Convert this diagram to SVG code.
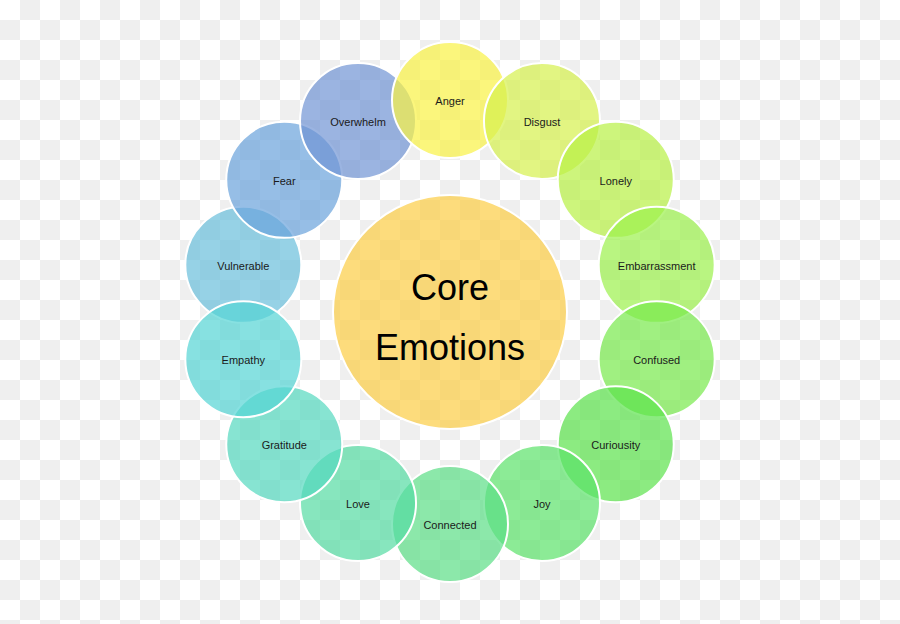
<svg xmlns="http://www.w3.org/2000/svg" width="900" height="624" viewBox="0 0 900 624">
<defs>
<pattern id="checker" x="0" y="0" width="40" height="40" patternUnits="userSpaceOnUse">
<rect x="0" y="0" width="40" height="40" fill="#ffffff"/>
<rect x="20" y="0" width="20" height="20" fill="#efefef"/>
<rect x="0" y="20" width="20" height="20" fill="#efefef"/>
</pattern>
</defs>
<style>
.c{stroke:#ffffff;stroke-width:2;fill-opacity:0.7}
.lbl{font-family:"Liberation Sans",Arial,sans-serif;font-size:11px;fill:#1a1a1a;text-anchor:middle}
.core{font-family:"Liberation Sans",Arial,sans-serif;font-size:36px;fill:#000000;text-anchor:middle}
</style>
<rect x="0" y="0" width="900" height="624" fill="url(#checker)"/>
<g id="connectors"/>
<g id="core">
<circle class="c" cx="450" cy="312" r="117" fill="#fccd45"/>
<text class="core" x="450" y="300">Core</text>
<text class="core" x="450" y="360">Emotions</text>
</g>
<g id="vulnerable"><circle class="c" cx="243.31" cy="264.83" r="58" fill="#69bfdb"/><text class="lbl" x="243.31" y="269.8">Vulnerable</text></g>
<g id="fear"><circle class="c" cx="284.25" cy="179.82" r="58" fill="#69a2db"/><text class="lbl" x="284.25" y="184.8">Fear</text></g>
<g id="overwhelm"><circle class="c" cx="358.02" cy="120.99" r="58" fill="#7094d4"/><text class="lbl" x="358.02" y="126">Overwhelm</text></g>
<g id="anger"><circle class="c" cx="450" cy="100" r="58" fill="#faf245"/><text class="lbl" x="450" y="105">Anger</text></g>
<g id="disgust"><circle class="c" cx="541.98" cy="120.99" r="58" fill="#d6f14d"/><text class="lbl" x="541.98" y="126">Disgust</text></g>
<g id="lonely"><circle class="c" cx="615.75" cy="179.82" r="58" fill="#b8f145"/><text class="lbl" x="615.75" y="184.8">Lonely</text></g>
<g id="embarrassment"><circle class="c" cx="656.69" cy="264.83" r="58" fill="#9bf14c"/><text class="lbl" x="656.69" y="269.8">Embarrassment</text></g>
<g id="confused"><circle class="c" cx="656.69" cy="359.17" r="58" fill="#77ea4c"/><text class="lbl" x="656.69" y="364.2">Confused</text></g>
<g id="curiousity"><circle class="c" cx="615.75" cy="444.18" r="58" fill="#5be24c"/><text class="lbl" x="615.75" y="449.2">Curiousity</text></g>
<g id="joy"><circle class="c" cx="541.98" cy="503.01" r="58" fill="#5be269"/><text class="lbl" x="541.98" y="508">Joy</text></g>
<g id="connected"><circle class="c" cx="450" cy="524" r="58" fill="#5bde86"/><text class="lbl" x="450" y="529">Connected</text></g>
<g id="love"><circle class="c" cx="358.02" cy="503.01" r="58" fill="#54dba2"/><text class="lbl" x="358.02" y="508">Love</text></g>
<g id="gratitude"><circle class="c" cx="284.25" cy="444.18" r="58" fill="#54d8bf"/><text class="lbl" x="284.25" y="449.2">Gratitude</text></g>
<g id="empathy"><circle class="c" cx="243.31" cy="359.17" r="58" fill="#54d4d4"/><text class="lbl" x="243.31" y="364.2">Empathy</text></g>
</svg>
